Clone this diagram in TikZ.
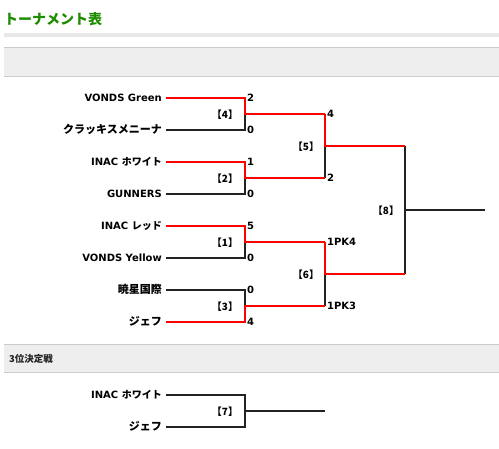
\documentclass[tikz,border=0pt]{standalone}
\usepackage{fontspec}
\setmainfont{DejaVu Sans}
\newfontfamily\jp{Noto Sans CJK JP}
\definecolor{titlegreen}{RGB}{30,140,0}
\definecolor{bandfill}{RGB}{238,238,238}
\definecolor{bandline}{RGB}{204,204,204}
\definecolor{hatch}{RGB}{232,232,232}
\definecolor{losecol}{RGB}{34,34,34}
\definecolor{wincol}{RGB}{255,0,0}
\begin{document}
\begin{tikzpicture}[x=1pt,y=-1pt,
  team/.style={anchor=base east,inner sep=0pt,font=\fontsize{10}{12}\selectfont\bfseries},
  score/.style={anchor=base west,inner sep=0pt,font=\fontsize{10}{12}\selectfont\bfseries},
  mlabel/.style={anchor=base,inner sep=0pt,font=\fontsize{10}{12}\selectfont\jp\bfseries},
  lose/.style={draw=losecol,line width=2.3pt},
  win/.style={draw=wincol,line width=2.3pt},
  band/.style={fill=bandfill},
  bandrule/.style={draw=bandline,line width=1pt}]
\useasboundingbox (0,0) rectangle (499,449);
% header
\node[anchor=base west,inner sep=0pt,text=titlegreen,font=\fontsize{14}{16}\selectfont\jp\bfseries] (title) at (4,24.5) {トーナメント表};
\fill[hatch] (4,33) rectangle (499,37);
\fill[band] (4,48) rectangle (499,77);
\draw[bandrule] (4,48) -- (499,48);
\draw[bandrule] (4,77) -- (499,77);
\fill[band] (4,345) rectangle (499,373);
\draw[bandrule] (4,345) -- (499,345);
\draw[bandrule] (4,373) -- (499,373);
\node[anchor=base west,inner sep=0pt,text=losecol,font=\fontsize{9.5}{11}\selectfont\jp\bfseries] (third) at (9,362.5) {3位決定戦};
% coordinates
\foreach \n/\y in {1/98,2/130,3/162,4/194,5/226,6/258,7/290,8/322}{
  \coordinate (s\n) at (166,\y);
  \coordinate (e\n) at (245,\y);
}
\foreach \n/\y in {a/114,b/178,c/242,d/306}{
  \coordinate (m\n) at (245,\y);
  \coordinate (q\n) at (325,\y);
}
\coordinate (u1) at (325,146);
\coordinate (v1) at (405,146);
\coordinate (u2) at (325,274);
\coordinate (v2) at (405,274);
\coordinate (f) at (405,210);
\coordinate (fe) at (485,210);
% team names
\node[team] (t1) at (162,102) {VONDS Green};
\node[team,font=\fontsize{11}{12}\selectfont\jp\bfseries] (t2) at (162,134) {クラッキスメニーナ};
\node[team] (t3) at (162,166) {INAC {\jp ホワイト}};
\node[team] (t4) at (162,198) {GUNNERS};
\node[team] (t5) at (162,230) {INAC {\jp レッド}};
\node[team] (t6) at (162,262) {VONDS Yellow};
\node[team,font=\fontsize{11}{12}\selectfont\jp\bfseries] (t7) at (162,294) {暁星国際};
\node[team,font=\fontsize{11}{12}\selectfont\jp\bfseries] (t8) at (162,326) {ジェフ};
% scores round 1
\node[score] (c1) at (247,102) {2};
\node[score] (c2) at (247,134) {0};
\node[score] (c3) at (247,166) {1};
\node[score] (c4) at (247,198) {0};
\node[score] (c5) at (247,230) {5};
\node[score] (c6) at (247,262) {0};
\node[score] (c7) at (247,294) {0};
\node[score] (c8) at (247,326) {4};
% scores round 2
\node[score] (d1) at (327,118) {4};
\node[score] (d2) at (327,182) {2};
\node[score] (d3) at (327,246) {1PK4};
\node[score] (d4) at (327,310) {1PK3};
% match labels
\node[mlabel] (L4) at (225,119) {【4】};
\node[mlabel] (L2) at (225,183) {【2】};
\node[mlabel] (L1) at (225,247) {【1】};
\node[mlabel] (L3) at (225,311) {【3】};
\node[mlabel] (L5) at (306,151) {【5】};
\node[mlabel] (L6) at (306,279) {【6】};
\node[mlabel] (L8) at (386,215) {【8】};
% losing paths
\draw[lose] (s2) -- (e2) -- (ma);
\draw[lose] (s4) -- (e4) -- (mb);
\draw[lose] (s6) -- (e6) -- (mc);
\draw[lose] (s7) -- (e7) -- (md);
\draw[lose] (qb) -- (u1);
\draw[lose] (qd) -- (u2);
\draw[lose] (v1) -- (v2);
\draw[lose] (f) -- (fe);
% winning paths
\draw[win] (s1) -- (e1) -- (ma) -- (qa);
\draw[win] (s3) -- (e3) -- (mb) -- (qb);
\draw[win] (s5) -- (e5) -- (mc) -- (qc);
\draw[win] (s8) -- (e8) -- (md) -- (qd);
\draw[win] (qa) -- (u1) -- (v1);
\draw[win] (qc) -- (u2) -- (v2);
% third place
\coordinate (ts1) at (166,395);
\coordinate (te1) at (245,395);
\coordinate (ts2) at (166,427);
\coordinate (te2) at (245,427);
\coordinate (tm) at (245,411);
\coordinate (tf) at (325,411);
\node[team] (p1) at (162,399) {INAC {\jp ホワイト}};
\node[team,font=\fontsize{11}{12}\selectfont\jp\bfseries] (p2) at (162,431) {ジェフ};
\node[mlabel] (L7) at (225,416) {【7】};
\draw[lose] (ts1) -- (te1) -- (te2) -- (ts2);
\draw[lose] (tm) -- (tf);
\end{tikzpicture}
\end{document}
